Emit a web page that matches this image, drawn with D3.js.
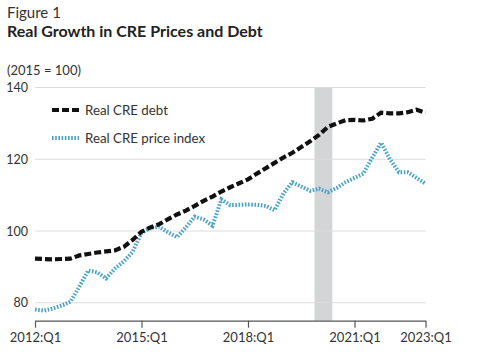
<!DOCTYPE html>
<html>
<head>
<meta charset="utf-8">
<script src="https://cdn.jsdelivr.net/npm/d3@7"></script>
<style>
  html, body { margin: 0; padding: 0; background: #fff; }
  svg { display: block; }
  text { font-family: Lato, "Open Sans", sans-serif; fill: #333; }
</style>
</head>
<body>
<svg id="chart" width="485" height="360"></svg>
<script>
const quarters = [
  "2012:Q1","2012:Q2","2012:Q3","2012:Q4",
  "2013:Q1","2013:Q2","2013:Q3","2013:Q4",
  "2014:Q1","2014:Q2","2014:Q3","2014:Q4",
  "2015:Q1","2015:Q2","2015:Q3","2015:Q4",
  "2016:Q1","2016:Q2","2016:Q3","2016:Q4",
  "2017:Q1","2017:Q2","2017:Q3","2017:Q4",
  "2018:Q1","2018:Q2","2018:Q3","2018:Q4",
  "2019:Q1","2019:Q2","2019:Q3","2019:Q4",
  "2020:Q1","2020:Q2","2020:Q3","2020:Q4",
  "2021:Q1","2021:Q2","2021:Q3","2021:Q4",
  "2022:Q1","2022:Q2","2022:Q3","2022:Q4",
  "2023:Q1"
];
const realCreDebt = [
  92.3, 92.2, 92.1, 92.2, 92.3, 93.2, 93.6, 94.0, 94.3, 94.6, 95.6, 97.5,
  99.8, 101.0, 101.9, 103.3, 104.6, 105.7, 107.0, 108.4, 109.6, 111.0, 112.2, 113.3,
  114.4, 116.0, 117.5, 119.0, 120.5, 121.8, 123.4, 125.0, 126.8, 129.0, 130.0, 130.9,
  131.0, 130.8, 131.3, 133.0, 132.8, 132.8, 133.1, 133.8, 133.0
];
const realCrePriceIndex = [
  78.1, 77.8, 78.4, 79.2, 80.3, 84.5, 89.0, 88.5, 86.8, 89.5, 91.5, 94.2,
  99.5, 100.8, 101.2, 99.6, 98.3, 101.0, 104.0, 103.2, 101.5, 108.8, 107.2, 107.3,
  107.4, 107.3, 107.0, 105.8, 110.5, 113.6, 112.4, 111.2, 111.8, 110.8, 112.0, 113.6,
  114.8, 116.0, 120.5, 124.6, 120.0, 116.4, 116.4, 114.8, 113.2
];
const xTickLabels = ["2012:Q1", "2015:Q1", "2018:Q1", "2021:Q1", "2023:Q1"];
const yTickValues = [80, 100, 120, 140];
const recession = ["2020:Q1", "2020:Q2"];
const seriesNames = ["Real CRE debt", "Real CRE price index"];

const svg = d3.select("#chart");
const plotLeft = 35, plotRight = 425.5, plotTop = 87.5, plotBottom = 320.7;

const x = d3.scalePoint().domain(quarters).range([plotLeft, plotRight]);
const y = d3.scaleLinear().domain([75, 140]).range([plotBottom, plotTop]);
const step = x.step();

// Titles
svg.append("text").attr("x", 7).attr("y", 17.5)
  .style("font-size", "15px").text("Figure 1");
svg.append("text").attr("x", 7).attr("y", 36.5)
  .style("font-size", "16px").style("font-weight", "bold").style("fill", "#222")
  .text("Real Growth in CRE Prices and Debt");
svg.append("text").attr("x", 7).attr("y", 75)
  .style("font-size", "13px").text("(2015 = 100)");

// Recession bar
svg.append("rect")
  .attr("x", x(recession[0]) - step / 2)
  .attr("y", plotTop)
  .attr("width", x(recession[1]) - x(recession[0]) + step)
  .attr("height", plotBottom - plotTop)
  .attr("fill", "#d4d5d6");

// Gridlines
svg.append("g").selectAll("line").data(yTickValues).join("line")
  .attr("x1", plotLeft).attr("x2", plotRight)
  .attr("y1", d => y(d)).attr("y2", d => y(d))
  .attr("stroke", "#dcdcdc").attr("stroke-width", 1);

// Y axis labels
const yAxis = d3.axisLeft(y).tickValues(yTickValues).tickSize(0).tickPadding(0);
const gy = svg.append("g").attr("transform", "translate(28,0)").call(yAxis);
gy.select(".domain").remove();
gy.selectAll("text").style("font-size", "12.5px").style("font-family", "Lato, 'Open Sans', sans-serif").attr("fill", "#333");

// X axis
const xAxis = d3.axisBottom(x).tickValues(xTickLabels).tickSize(7).tickSizeOuter(0).tickPadding(5);
const gx = svg.append("g").attr("transform", `translate(0,${plotBottom})`).call(xAxis);
gx.select(".domain").attr("stroke", "#555").attr("stroke-width", 1.2);
gx.selectAll(".tick line").attr("stroke", "#555").attr("stroke-width", 1.2);
gx.selectAll("text").style("font-size", "13px").style("font-family", "Lato, 'Open Sans', sans-serif").attr("fill", "#333");

// Lines
const line = d3.line().x((d, i) => x(quarters[i])).y(d => y(d)).curve(d3.curveLinear);
svg.append("path").datum(realCrePriceIndex)
  .attr("d", line).attr("fill", "none")
  .attr("stroke", "#4aa2c8").attr("stroke-width", 4)
  .attr("stroke-dasharray", "1.6,1.6");
svg.append("path").datum(realCreDebt)
  .attr("d", line).attr("fill", "none")
  .attr("stroke", "#111").attr("stroke-width", 4.2)
  .attr("stroke-dasharray", "7,3");

// Legend
const legend = svg.append("g");
const legendItems = [
  { name: seriesNames[0], color: "#111", dash: "7,3", w: 4.2, yy: 110 },
  { name: seriesNames[1], color: "#4aa2c8", dash: "1.6,1.6", w: 4, yy: 138 }
];
legendItems.forEach(it => {
  legend.append("line").attr("x1", 52).attr("x2", 79)
    .attr("y1", it.yy).attr("y2", it.yy)
    .attr("stroke", it.color).attr("stroke-width", it.w)
    .attr("stroke-dasharray", it.dash);
  legend.append("text").attr("x", 85).attr("y", it.yy).attr("dy", "0.35em")
    .style("font-size", "13.3px").text(it.name);
});
</script>
</body>
</html>
